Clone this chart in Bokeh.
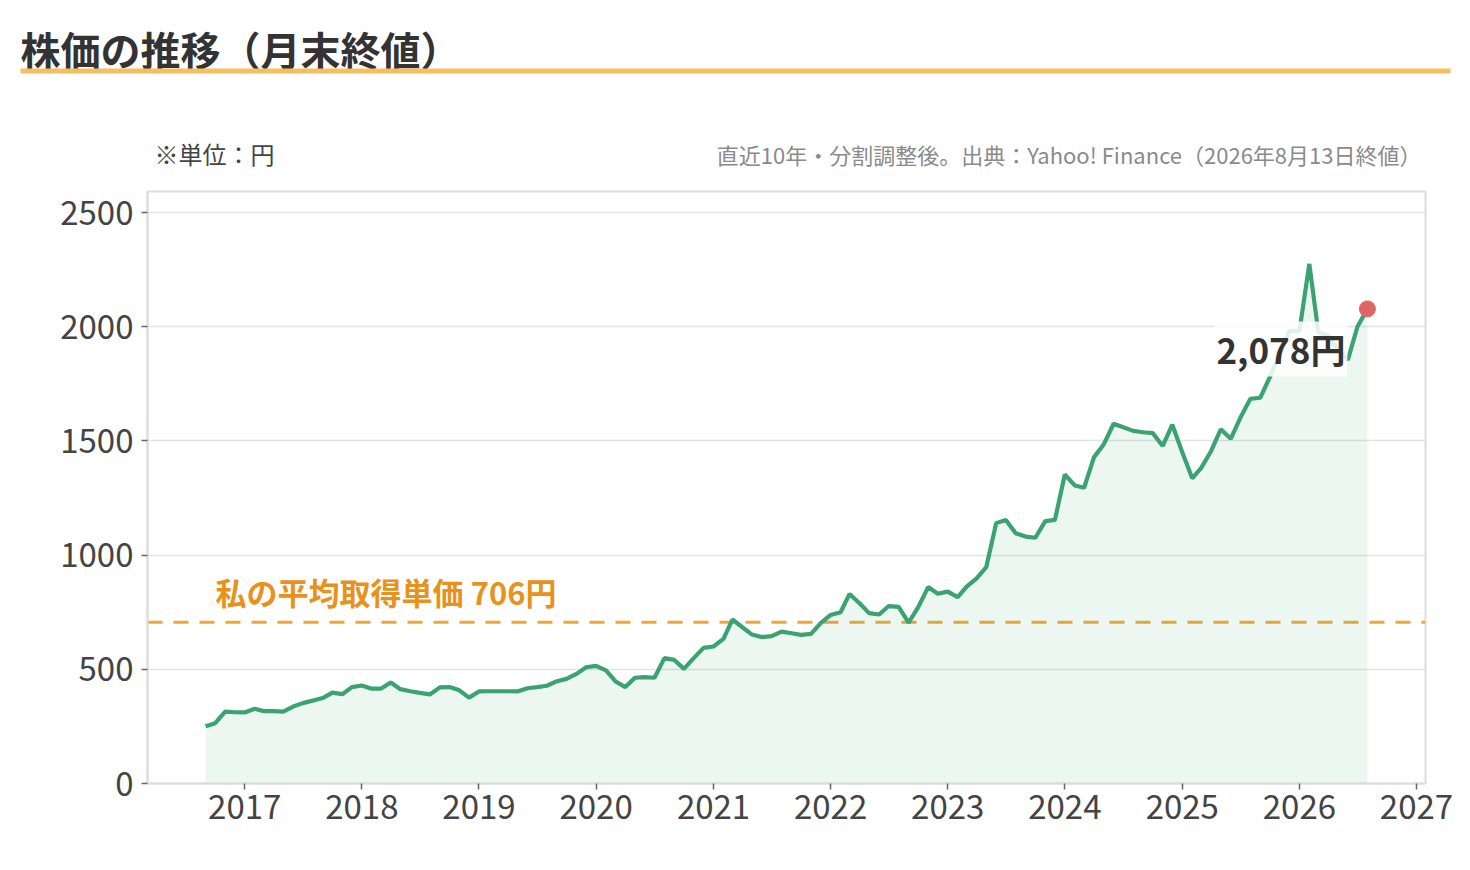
import pandas as pd

from bokeh.core.properties import value
from bokeh.embed import file_html
from bokeh.layouts import column
from bokeh.models import (DatetimeTickFormatter, FixedTicker, Label,
                          Range1d, Span)
from bokeh.plotting import figure
from bokeh.resources import INLINE

# 月末終値 (円), 2016-09 .. 2026-08
close = [251, 264, 315, 312, 311, 327, 317, 317, 315, 337,
         352, 363, 374, 398, 391, 422, 429, 415, 415, 442,
         413, 404, 397, 390, 421, 422, 408, 376, 403, 404,
         404, 404, 403, 417, 422, 428, 448, 458, 480, 509,
         515, 495, 448, 422, 463, 466, 463, 549, 541, 502,
         550, 594, 600, 633, 718, 684, 652, 641, 645, 665,
         658, 651, 655, 702, 738, 750, 830, 789, 746, 740,
         777, 773, 704, 772, 860, 831, 840, 816, 862, 898,
         947, 1140, 1154, 1096, 1081, 1076, 1149, 1154, 1353, 1305,
         1295, 1429, 1484, 1575, 1560, 1544, 1538, 1534, 1478, 1571,
         1450, 1336, 1382, 1456, 1551, 1509, 1601, 1684, 1689, 1779,
         1881, 1983, 1980, 2275, 1976, 1960, 1900, 1855, 2000, 2078]
dates = pd.date_range("2016-09-01", periods=len(close), freq="MS")

avg_cost = 706
tick_years = list(range(2017, 2028))
y_ticks = [0, 500, 1000, 1500, 2000, 2500]

title_text = "株価の推移（月末終値）"
unit_text = "※単位：円"
source_text = "直近10年・分割調整後。出典：Yahoo! Finance（2026年8月13日終値）"

FONT = "Noto Sans CJK JP"
GREEN = "#3aa371"
WIDTH = 1460
HEADER_H = 181


def header_fig():
    # pixel coordinates, y grows downwards
    h = figure(width=WIDTH, height=HEADER_H,
               x_range=Range1d(0, WIDTH), y_range=Range1d(HEADER_H, 0),
               x_axis_location=None, y_axis_location=None,
               output_backend="svg", toolbar_location=None,
               min_border=0, frame_align=False)
    h.grid.visible = False
    h.outline_line_color = None

    h.text(x=[20], y=[48], text=[title_text],
           text_font=value(FONT), text_font_size="40px",
           text_font_style="bold", text_color="#333333",
           text_baseline="middle")
    h.segment(x0=[20], y0=[70.5], x1=[1450], y1=[70.5],
              line_width=5, line_color="#f6be5c")
    h.text(x=[154], y=[153], text=[unit_text],
           text_font=value(FONT), text_font_size="24px",
           text_color="#444444", text_baseline="middle")
    h.text(x=[1421], y=[153], text=[source_text],
           text_font=value(FONT), text_font_size="22px",
           text_color="#8a8a8a", text_baseline="middle",
           text_align="right")
    return h


def main_fig():
    p = figure(width=WIDTH, height=850 - HEADER_H, x_axis_type="datetime",
               y_range=Range1d(0, 2592),
               output_backend="svg", toolbar_location=None,
               min_border_left=147, min_border_right=WIDTH - 1425,
               min_border_top=191 - HEADER_H, min_border_bottom=67,
               frame_align=False)

    p.outline_line_color = "#dddddd"
    p.outline_line_width = 2
    p.xgrid.visible = False
    p.ygrid.grid_line_color = "#e3e3e3"
    p.ygrid.grid_line_width = 1.5

    p.yaxis.ticker = FixedTicker(ticks=y_ticks)
    p.xaxis.ticker = FixedTicker(
        ticks=[pd.Timestamp(f"{y}-01-01").value / 1e6 for y in tick_years])
    p.xaxis.formatter = DatetimeTickFormatter(days="%Y", months="%Y",
                                              years="%Y")
    p.axis.axis_line_color = "#dddddd"
    p.axis.axis_line_width = 2
    p.axis.major_tick_line_color = "#666666"
    p.axis.major_tick_line_width = 1.5
    p.axis.major_tick_out = 6
    p.axis.major_tick_in = 0
    p.axis.minor_tick_line_color = None
    p.axis.major_label_text_font = FONT
    p.axis.major_label_text_font_size = "33px"
    p.axis.major_label_text_color = "#444444"
    p.yaxis.major_label_standoff = 8
    p.xaxis.major_label_standoff = 5

    p.varea(x=dates, y1=0, y2=close, fill_color=GREEN, fill_alpha=0.09)

    cost_line = Span(location=avg_cost, dimension="width",
                     line_color="#f2a634", line_width=3,
                     line_dash="15 11", level="underlay")
    p.add_layout(cost_line)

    p.line(dates, close, line_color=GREEN, line_width=4.2)
    p.scatter([dates[-1]], [close[-1]], size=16, color="#e06666")

    p.add_layout(Label(x=dates[0], y=avg_cost, x_offset=10, y_offset=8,
                       text=f"私の平均取得単価 {avg_cost}円",
                       text_font=FONT, text_font_size="31px",
                       text_font_style="bold", text_color="#e8921c",
                       text_baseline="bottom"))

    p.add_layout(Label(x=dates[-1], y=close[-1], x_offset=-20, y_offset=-40,
                       text=f"{close[-1]:,}円",
                       text_font=FONT, text_font_size="35px",
                       text_font_style="bold", text_color="#333333",
                       text_align="right", text_baseline="middle",
                       background_fill_color="white",
                       background_fill_alpha=0.85, padding=2))
    return p


layout = column(header_fig(), main_fig())
open("out.html", "w").write(file_html(layout, INLINE))
